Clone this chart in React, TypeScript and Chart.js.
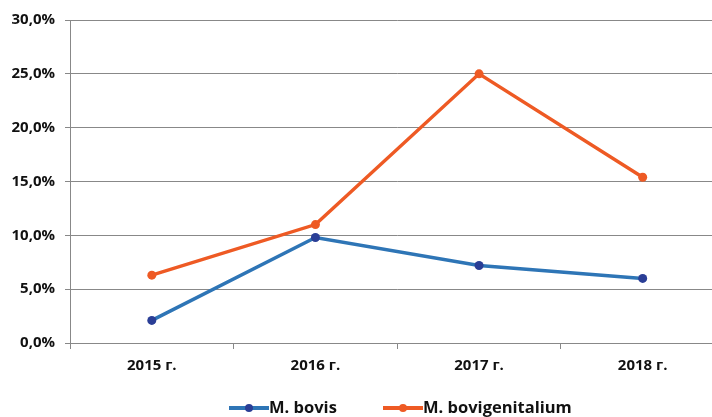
import React, { useEffect, useRef } from "react";
import { Chart, registerables } from "chart.js";

Chart.register(...registerables);

const categories = ["2015 г.", "2016 г.", "2017 г.", "2018 г."];
const bovis = [2.1, 9.8, 7.2, 6.0];
const bovigenitalium = [6.3, 11.0, 25.0, 15.4];
const seriesNames = ["M. bovis", "M. bovigenitalium"];
const lineColors = ["#2E75B6", "#EE5A24"];
const pointColors = ["#2A3E96", "#EE5A24"];

const FONT = "'Open Sans', 'DejaVu Sans', sans-serif";
const W = 729;
const H = 417;

const legendPlugin = {
  id: "customLegend",
  afterDraw(chart: any) {
    const ctx = chart.ctx;
    const y = 408;
    const items = [
      { x: 229, name: seriesNames[0], line: lineColors[0], point: pointColors[0] },
      { x: 383, name: seriesNames[1], line: lineColors[1], point: pointColors[1] },
    ];
    ctx.save();
    for (const it of items) {
      ctx.strokeStyle = it.line;
      ctx.lineWidth = 4;
      ctx.beginPath();
      ctx.moveTo(it.x, y);
      ctx.lineTo(it.x + 40, y);
      ctx.stroke();
      ctx.fillStyle = it.point;
      ctx.beginPath();
      ctx.arc(it.x + 20, y, 4, 0, Math.PI * 2);
      ctx.fill();
      ctx.fillStyle = "#111";
      ctx.font = `bold 16.5px ${FONT}`;
      ctx.textBaseline = "middle";
      ctx.textAlign = "left";
      ctx.fillText(it.name, it.x + 40, y);
    }
    ctx.restore();
  },
};

export default function App() {
  const ref = useRef<HTMLCanvasElement>(null);
  useEffect(() => {
    if (!ref.current) return;
    const chart = new Chart(ref.current, {
      type: "line",
      data: {
        labels: categories,
        datasets: [
          {
            label: seriesNames[0],
            data: bovis,
            borderColor: lineColors[0],
            backgroundColor: pointColors[0],
            pointBackgroundColor: pointColors[0],
            pointBorderWidth: 0,
            borderWidth: 3.5,
            pointRadius: 4.5,
            tension: 0,
          },
          {
            label: seriesNames[1],
            data: bovigenitalium,
            borderColor: lineColors[1],
            backgroundColor: pointColors[1],
            pointBackgroundColor: pointColors[1],
            pointBorderWidth: 0,
            borderWidth: 3.5,
            pointRadius: 4.5,
            tension: 0,
          },
        ],
      },
      options: {
        animation: false,
        responsive: false,
        maintainAspectRatio: false,
        layout: { padding: { top: 20, bottom: 0, left: 0, right: 0 } },
        plugins: {
          legend: { display: false },
          tooltip: { enabled: false },
        },
        scales: {
          x: {
            offset: true,
            grid: {
              offset: true,
              drawOnChartArea: false,
              drawTicks: true,
              tickLength: 6,
              color: "#888",
              lineWidth: 1,
            },
            border: { color: "#888", width: 1 },
            ticks: {
              color: "#111",
              font: { family: FONT, size: 15, weight: "bold" },
              padding: 8,
              maxRotation: 0,
            },
            afterFit: (s: any) => {
              s.height = 74;
            },
          },
          y: {
            min: 0,
            max: 30,
            grid: {
              color: "#888",
              lineWidth: 1,
              drawTicks: true,
              tickLength: 5,
            },
            border: { color: "#888", width: 1 },
            ticks: {
              stepSize: 5,
              color: "#111",
              font: { family: FONT, size: 15, weight: "bold" },
              padding: 10,
              callback: (v: any) => Number(v).toFixed(1).replace(".", ",") + "%",
            },
            afterFit: (s: any) => {
              s.width = 70;
            },
          },
        },
      },
      plugins: [legendPlugin],
    });
    return () => chart.destroy();
  }, []);
  return (
    <div style={{ position: "absolute", left: 0, top: 0, width: W, height: H, background: "#fff" }}>
      <canvas ref={ref} width={W} height={H} style={{ width: W, height: H, display: "block" }} />
    </div>
  );
}
